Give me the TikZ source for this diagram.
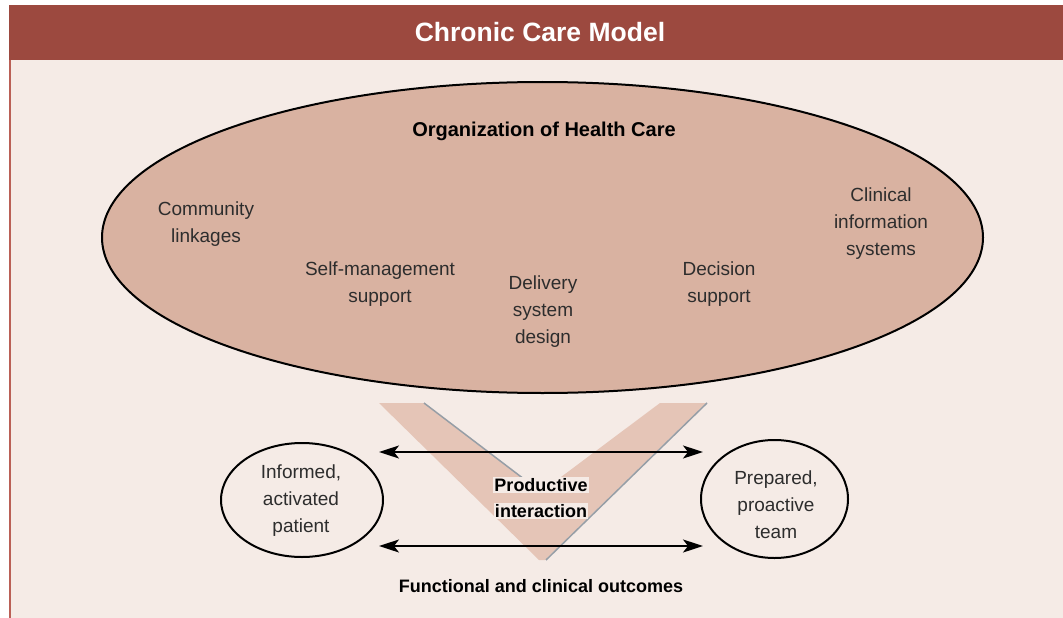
\documentclass[tikz,border=0pt]{standalone}
\usepackage{fontspec}
\setmainfont{Liberation Sans}
\usetikzlibrary{arrows.meta,shapes.geometric}
\definecolor{hdr}{RGB}{156,73,63}
\definecolor{panel}{RGB}{245,235,230}
\definecolor{ovalfill}{RGB}{217,178,161}
\definecolor{band}{RGB}{229,197,183}
\definecolor{shadegray}{RGB}{150,158,166}
\definecolor{txt}{RGB}{45,45,45}
\definecolor{edge}{RGB}{186,96,86}
\setlength{\fboxsep}{1pt}
\begin{document}
\begin{tikzpicture}[x=1pt,y=-1pt,
  titletext/.style={text=white,font=\fontsize{26.5}{30}\selectfont\bfseries,inner sep=0pt},
  headtext/.style={text=black,font=\fontsize{20}{24}\selectfont\bfseries,inner sep=0pt},
  boldlabel/.style={text=black,font=\fontsize{18}{26}\selectfont\bfseries,align=center,inner sep=0pt},
  itemtext/.style={text=txt,font=\fontsize{19}{27}\selectfont,align=center,inner sep=0pt},
  bigoval/.style={draw=black,line width=2pt,fill=ovalfill,ellipse,inner sep=0pt},
  smalloval/.style={draw=black,line width=2pt,ellipse,inner sep=0pt},
  link/.style={line width=1.8pt,arrows={Stealth[length=20pt,width=13pt,inset=5pt]-Stealth[length=20pt,width=13pt,inset=5pt]}},
  shadeline/.style={draw=shadegray,line width=1.5pt}
]
\useasboundingbox (0,0) rectangle (1063,618);
\fill[white] (0,0) rectangle (1063,618);
\fill[panel] (9,60) rectangle (1063,618);
\draw[edge,line width=2pt] (10,60) -- (10,618);
\fill[hdr] (9,5) rectangle (1063,60);
\node[titletext] (title) at (540,32) {Chronic Care Model};

% organization oval
\node[bigoval,minimum width=881pt,minimum height=311pt] (org) at (542.5,237.5) {};
\node[headtext] (orgtitle) at (544,131) {Organization of Health Care};
\node[itemtext] (community) at (206,224.5) {Community\\linkages};
\node[itemtext] (selfman) at (380,284.5) {Self-management\\support};
\node[itemtext] (delivery) at (543,312) {Delivery\\system\\design};
\node[itemtext] (decision) at (719,284.5) {Decision\\support};
\node[itemtext] (clinical) at (881,224) {Clinical\\information\\systems};

% V band
\fill[band] (379,403) -- (424,403) -- (541,492) -- (660,403) -- (706,403) -- (545,560) -- (539,560) -- cycle;
\draw[shadeline] (424,403) -- (541,492);
\draw[shadeline] (707,403) -- (546,560);

% patient and team
\node[smalloval,minimum width=162pt,minimum height=114pt] (patient) at (302,500) {};
\node[itemtext] (patienttext) at (301,501) {Informed,\\activated\\patient};
\node[smalloval,minimum width=147pt,minimum height=118pt] (team) at (774.5,499) {};
\node[itemtext] (teamtext) at (776,505) {Prepared,\\proactive\\team};

% arrows
\coordinate (t1) at (379,452);
\coordinate (t2) at (703,452);
\coordinate (b1) at (379,546);
\coordinate (b2) at (703,546);
\draw[link] (t1) -- (t2);
\draw[link] (b1) -- (b2);

\node[boldlabel] (prod) at (541,498) {\colorbox{panel}{Productive}\\\colorbox{panel}{interaction}};
\node[boldlabel] (outcomes) at (541,586) {Functional and clinical outcomes};
\end{tikzpicture}
\end{document}
